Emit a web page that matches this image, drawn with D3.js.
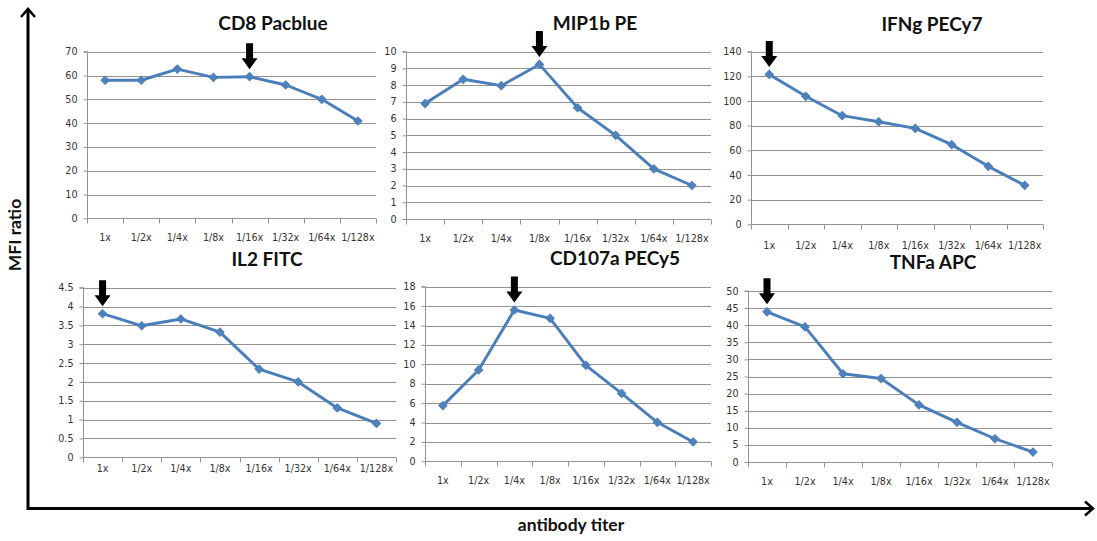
<!DOCTYPE html>
<html>
<head>
<meta charset="utf-8">
<script src="https://cdn.jsdelivr.net/npm/d3@7"></script>
<style>
  html, body { margin: 0; padding: 0; background: #fff; }
  svg { display: block; }
  .tick-label { font-family: "DejaVu Sans", Verdana, sans-serif; font-size: 9.6px; fill: #333; }
  .panel-title { font-family: Lato, "Open Sans", sans-serif; font-weight: 700; font-size: 19px; fill: #111; }
  .outer-label { font-family: Lato, "Open Sans", sans-serif; font-weight: 700; font-size: 17.5px; fill: #111; }
</style>
</head>
<body>
<svg id="chart" width="1097" height="541"></svg>
<script>
// Antibody dilution steps shared by every panel
const categories = ["1x", "1/2x", "1/4x", "1/8x", "1/16x", "1/32x", "1/64x", "1/128x"];

// MFI ratio per dilution, one array per stain
const cd8Pacblue   = [58, 58, 62.7, 59.2, 59.5, 56, 50, 40.9];
const mip1bPE      = [6.9, 8.35, 7.97, 9.24, 6.65, 5.0, 3.0, 2.0];
const ifngPECy7    = [121.6, 103.8, 88.1, 83.2, 77.8, 64.6, 47, 31.6];
const il2FITC      = [3.81, 3.49, 3.67, 3.32, 2.34, 2.0, 1.31, 0.9];
const cd107aPECy5  = [5.74, 9.42, 15.6, 14.74, 9.9, 7.0, 4.02, 2.0];
const tnfaAPC      = [43.9, 39.5, 25.8, 24.4, 16.7, 11.6, 6.8, 2.9];

const panelTitles  = ["CD8 Pacblue", "MIP1b PE", "IFNg PECy7", "IL2 FITC", "CD107a PECy5", "TNFa APC"];
const panelSeries  = [cd8Pacblue, mip1bPE, ifngPECy7, il2FITC, cd107aPECy5, tnfaAPC];
// y-axis maximum and tick step for each panel
const yMax         = [70, 10, 140, 4.5, 18, 50];
const yStep        = [10, 1, 20, 0.5, 2, 5];
// dilution chosen as optimal titer (arrow) for each panel
const chosenTiter  = ["1/16x", "1/8x", "1x", "1x", "1/4x", "1x"];

// Plot-area boxes and label placement for the 2x3 grid
const layout = [
  { x0: 87,  x1: 376,  y0: 51.7,  y1: 218.3, titleX: 273, titleY: 30,  catDy: 20 },
  { x0: 406, x1: 711,  y0: 51.7,  y1: 219,   titleX: 595, titleY: 30,  catDy: 20 },
  { x0: 751, x1: 1043, y0: 51.7,  y1: 224.3, titleX: 932, titleY: 31,  catDy: 22 },
  { x0: 83,  x1: 396,  y0: 287.7, y1: 457.3, titleX: 267, titleY: 266, catDy: 12 },
  { x0: 425, x1: 711,  y0: 286.7, y1: 461.3, titleX: 615, titleY: 265, catDy: 20 },
  { x0: 748, x1: 1052, y0: 291,   y1: 462,   titleX: 933, titleY: 269, catDy: 20 }
];

const svg = d3.select("#chart");
const gridColor = "#939393";
const lineColor = "#4a7ebb";
const markerColor = "#4f81bd";

layout.forEach((L, i) => {
  const values = panelSeries[i];
  const x = d3.scaleBand().domain(categories).range([L.x0, L.x1]).padding(0);
  const y = d3.scaleLinear().domain([0, yMax[i]]).range([L.y1, L.y0]);
  const ticks = d3.range(0, yMax[i] + yStep[i] / 2, yStep[i]);
  const g = svg.append("g");

  // horizontal gridlines
  g.selectAll("line.grid").data(ticks.filter(t => t > 0)).join("line")
    .attr("x1", L.x0).attr("x2", L.x1)
    .attr("y1", d => Math.round(y(d)) + 0.5).attr("y2", d => Math.round(y(d)) + 0.5)
    .attr("stroke", gridColor).attr("stroke-width", 1.2);

  // y axis via d3.axisLeft
  const yAxis = d3.axisLeft(y).tickValues(ticks).tickSize(4).tickPadding(6)
    .tickFormat(d => String(+d.toFixed(1)));
  const ya = g.append("g").attr("transform", `translate(${Math.round(L.x0) + 0.5},0)`).call(yAxis);
  ya.select(".domain").attr("stroke", gridColor).attr("d", `M-4,${L.y0}H0V${L.y1}`);
  ya.selectAll(".tick line").attr("stroke", gridColor);
  ya.selectAll(".tick text").attr("class", "tick-label").attr("fill", "#333").attr("font-size", null).attr("font-family", null);

  // x axis: baseline with ticks at band boundaries
  const xb = Math.round(L.y1) + 0.5;
  g.append("line").attr("x1", L.x0).attr("x2", L.x1).attr("y1", xb).attr("y2", xb)
    .attr("stroke", gridColor).attr("stroke-width", 1.2);
  const bounds = categories.map(c => x(c)).concat([x.range()[1]]);
  g.selectAll("line.xt").data(bounds).join("line")
    .attr("x1", d => Math.round(d) + 0.5).attr("x2", d => Math.round(d) + 0.5)
    .attr("y1", xb).attr("y2", xb + 5).attr("stroke", gridColor);
  g.selectAll("text.cat").data(categories).join("text")
    .attr("class", "tick-label")
    .attr("x", d => x(d) + x.bandwidth() / 2)
    .attr("y", L.y1 + L.catDy)
    .attr("text-anchor", "middle").attr("dominant-baseline", "middle")
    .text(d => d);

  // series line
  const line = d3.line().x((d, k) => x(categories[k]) + x.bandwidth() / 2).y(d => y(d));
  g.append("path").datum(values).attr("d", line)
    .attr("fill", "none").attr("stroke", lineColor).attr("stroke-width", 2.9)
    .attr("stroke-linejoin", "round");

  // diamond markers
  const diamond = d3.symbol().type(d3.symbolSquare).size(34);
  g.selectAll("path.mk").data(values).join("path")
    .attr("d", diamond)
    .attr("transform", (d, k) => `translate(${x(categories[k]) + x.bandwidth() / 2},${y(d)}) rotate(45)`)
    .attr("fill", markerColor).attr("stroke", lineColor).attr("stroke-width", 1);

  // arrow marking the chosen titer
  const k = categories.indexOf(chosenTiter[i]);
  const ax = x(categories[k]) + x.bandwidth() / 2;
  const tip = y(values[k]) - 7.5;
  const top = tip - 26, headTop = tip - 11;
  g.append("path")
    .attr("d", `M${ax - 3.5},${top}H${ax + 3.5}V${headTop}H${ax + 8}L${ax},${tip}L${ax - 8},${headTop}H${ax - 3.5}Z`)
    .attr("fill", "#000");

  // panel title
  g.append("text").attr("class", "panel-title")
    .attr("x", L.titleX).attr("y", L.titleY).attr("text-anchor", "middle")
    .text(panelTitles[i]);
});

// shared outer axes
const outer = svg.append("g").attr("stroke", "#000").attr("stroke-width", 3).attr("fill", "none");
outer.append("path").attr("d", "M28,9V508.5H1093").attr("stroke-linejoin", "miter");
outer.append("path").attr("d", "M21,17L28,9L35,17").attr("stroke-width", 2.5);
outer.append("path").attr("d", "M1085,501.5L1093,508.5L1085,515.5").attr("stroke-width", 2.5);

svg.append("text").attr("class", "outer-label")
  .attr("transform", "translate(21,235) rotate(-90)")
  .attr("text-anchor", "middle").text("MFI ratio");
svg.append("text").attr("class", "outer-label")
  .attr("x", 571).attr("y", 531).attr("text-anchor", "middle").text("antibody titer");
</script>
</body>
</html>
